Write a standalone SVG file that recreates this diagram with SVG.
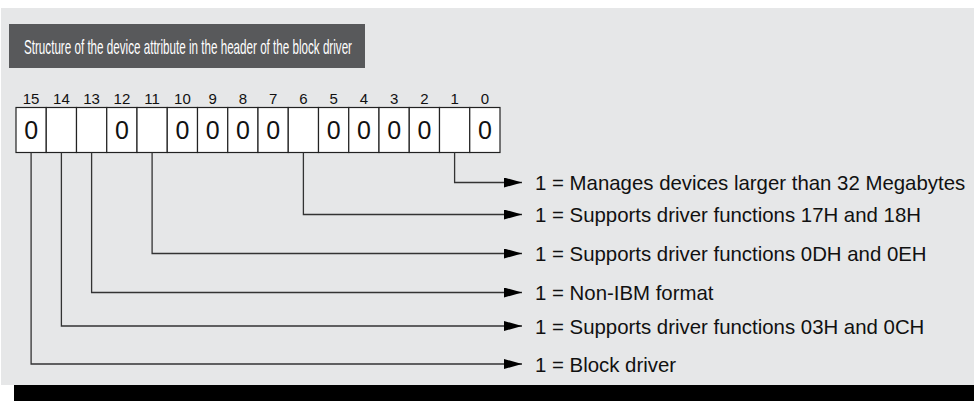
<svg xmlns="http://www.w3.org/2000/svg" width="974" height="401" viewBox="0 0 974 401">
<defs>
<style>
.bg{fill:#e6e7e8}
.title{fill:#58595b}
.tt{font-family:"Liberation Sans",Arial,sans-serif;font-size:21px;fill:#ffffff}
.num{font-family:"Liberation Sans",Arial,sans-serif;font-size:15px;fill:#111;text-anchor:middle}
.cell{fill:#ffffff;stroke:#222;stroke-width:1.2}
.zero{font-family:"Liberation Sans",Arial,sans-serif;font-size:25px;fill:#111;text-anchor:middle}
.conn{fill:none;stroke:#333;stroke-width:1.3}
.lbl{font-family:"Liberation Sans",Arial,sans-serif;font-size:20.4px;fill:#111}
</style>
<marker id="arr" viewBox="0 0 18 10" refX="18" refY="5" markerWidth="18" markerHeight="10" markerUnits="userSpaceOnUse" orient="auto">
<path d="M0,0 L18,5 L0,10 Z" fill="#000"/>
</marker>
</defs>
<rect x="0" y="0" width="974" height="401" fill="#ffffff"/>
<rect class="bg" x="1" y="8" width="973" height="377"/>
<rect x="14" y="385" width="960" height="16" fill="#000"/>
<g id="title">
<rect class="title" x="9" y="24" width="356" height="44"/>
<text class="tt" x="24" y="54" textLength="328" lengthAdjust="spacingAndGlyphs">Structure of the device attribute in the header of the block driver</text>
</g>
<g id="bitnumbers">
<text class="num" x="31.1" y="104">15</text>
<text class="num" x="61.4" y="104">14</text>
<text class="num" x="91.6" y="104">13</text>
<text class="num" x="121.9" y="104">12</text>
<text class="num" x="152.1" y="104">11</text>
<text class="num" x="182.4" y="104">10</text>
<text class="num" x="212.6" y="104">9</text>
<text class="num" x="242.9" y="104">8</text>
<text class="num" x="273.1" y="104">7</text>
<text class="num" x="303.4" y="104">6</text>
<text class="num" x="333.6" y="104">5</text>
<text class="num" x="363.9" y="104">4</text>
<text class="num" x="394.1" y="104">3</text>
<text class="num" x="424.4" y="104">2</text>
<text class="num" x="454.6" y="104">1</text>
<text class="num" x="484.9" y="104">0</text>
</g>
<g id="register">
<rect class="cell" x="16" y="107.5" width="30.25" height="45"/>
<rect class="cell" x="46.25" y="107.5" width="30.25" height="45"/>
<rect class="cell" x="76.5" y="107.5" width="30.25" height="45"/>
<rect class="cell" x="106.75" y="107.5" width="30.25" height="45"/>
<rect class="cell" x="137" y="107.5" width="30.25" height="45"/>
<rect class="cell" x="167.25" y="107.5" width="30.25" height="45"/>
<rect class="cell" x="197.5" y="107.5" width="30.25" height="45"/>
<rect class="cell" x="227.75" y="107.5" width="30.25" height="45"/>
<rect class="cell" x="258" y="107.5" width="30.25" height="45"/>
<rect class="cell" x="288.25" y="107.5" width="30.25" height="45"/>
<rect class="cell" x="318.5" y="107.5" width="30.25" height="45"/>
<rect class="cell" x="348.75" y="107.5" width="30.25" height="45"/>
<rect class="cell" x="379" y="107.5" width="30.25" height="45"/>
<rect class="cell" x="409.25" y="107.5" width="30.25" height="45"/>
<rect class="cell" x="439.5" y="107.5" width="30.25" height="45"/>
<rect class="cell" x="469.75" y="107.5" width="30.25" height="45"/>
<text class="zero" x="31.1" y="139">0</text>
<text class="zero" x="121.9" y="139">0</text>
<text class="zero" x="182.4" y="139">0</text>
<text class="zero" x="212.6" y="139">0</text>
<text class="zero" x="242.9" y="139">0</text>
<text class="zero" x="273.1" y="139">0</text>
<text class="zero" x="333.6" y="139">0</text>
<text class="zero" x="363.9" y="139">0</text>
<text class="zero" x="394.1" y="139">0</text>
<text class="zero" x="424.4" y="139">0</text>
<text class="zero" x="484.9" y="139">0</text>
</g>
<g id="connectors">
<path class="conn" d="M454.6,152.5 V182.5 H522" marker-end="url(#arr)"/>
<path class="conn" d="M303.4,152.5 V214.5 H522" marker-end="url(#arr)"/>
<path class="conn" d="M152.1,152.5 V253.5 H522" marker-end="url(#arr)"/>
<path class="conn" d="M91.6,152.5 V292.5 H522" marker-end="url(#arr)"/>
<path class="conn" d="M61.4,152.5 V326 H522" marker-end="url(#arr)"/>
<path class="conn" d="M31.1,152.5 V364 H522" marker-end="url(#arr)"/>
</g>
<g id="labels">
<text class="lbl" x="535" y="190">1 = Manages devices larger than 32 Megabytes</text>
<text class="lbl" x="535" y="222">1 = Supports driver functions 17H and 18H</text>
<text class="lbl" x="535" y="261">1 = Supports driver functions 0DH and 0EH</text>
<text class="lbl" x="535" y="300">1 = Non-IBM format</text>
<text class="lbl" x="535" y="333.5">1 = Supports driver functions 03H and 0CH</text>
<text class="lbl" x="535" y="371.5">1 = Block driver</text>
</g>
</svg>
